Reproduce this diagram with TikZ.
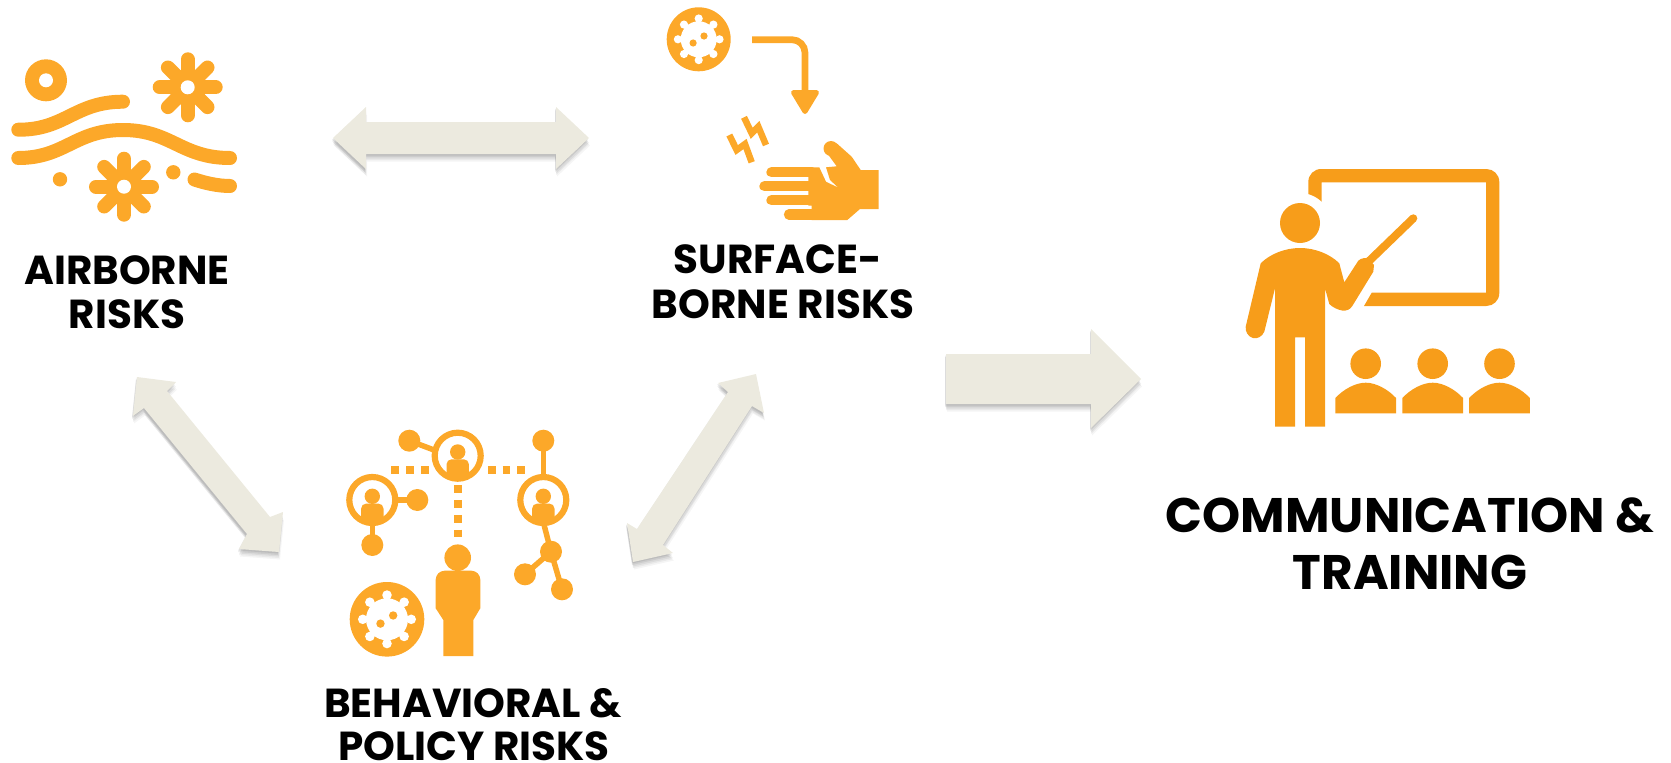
\documentclass[tikz,border=0pt]{standalone}
\usepackage{fontspec}
\setmainfont{Poppins}
\definecolor{iconor}{HTML}{FCA829}
\definecolor{teachor}{HTML}{F79D1A}
\definecolor{arrowfill}{HTML}{ECEADF}
\tikzset{
  iconfill/.style={fill=iconor,draw=none},
  iconline/.style={draw=iconor,line cap=round,line width=#1},
  labelsmall/.style={font=\bfseries\fontsize{40.5}{44}\selectfont,text=black,inner sep=0pt,anchor=center},
  labelbig/.style={font=\bfseries\fontsize{48.5}{52}\selectfont,text=black,inner sep=0pt,anchor=center},
}
\newcommand{\blockarrow}[1]{%
  \fill[black,opacity=.07,shift={(-1,1.5)}] #1;
  \fill[black,opacity=.07,shift={(-1,3)}] #1;
  \fill[black,opacity=.06,shift={(0,4.5)}] #1;
  \fill[black,opacity=.05,shift={(0,6)}] #1;
  \fill[black,opacity=.04,shift={(1,7.5)}] #1;
  \fill[arrowfill] #1;
}
\newcommand{\flowerIcon}[2]{%
  \foreach \a in {0,45,...,315}{\draw[iconline=14] (#1,#2) -- ++(\a:28);}
  \fill[iconor] (#1,#2) circle[radius=18.5];
  \fill[white] (#1,#2) circle[radius=7];
}
\newcommand{\virusIcon}[3]{% cx cy R
  \fill[iconor] (#1,#2) circle[radius=#3];
  \begin{scope}[shift={(#1,#2)},scale=#3/32]
    \fill[white] (0,0) circle[radius=18];
    \foreach \a in {0,45,...,315}{\draw[white,line width=5*#3/32] (0,0) -- (\a:20);
      \fill[white] (\a:20.8) circle[radius=4.1];}
    \fill[iconor] (5.3,-3.3) circle[radius=3.6];
    \fill[iconor] (-5.6,3.7) circle[radius=3.6];
  \end{scope}
}
\newcommand{\ringPerson}[2]{%
  \begin{scope}[shift={(#1,#2)}]
    \draw[iconor,line width=6.2] (0,0) circle[radius=23];
    \fill[iconor] (0,-3.7) circle[radius=7.7];
    \fill[iconor,rounded corners=5pt] (-11.2,3.6) rectangle (11.2,22);
  \end{scope}
}
\newcommand{\ballIcon}[2]{\fill[iconor] (#1,#2) circle[radius=11];}
\begin{document}
\begin{tikzpicture}[x=1pt,y=-1pt]
\useasboundingbox (0,0) rectangle (1671,763);

% ---------- block arrows
\blockarrow{(333,138)--(366,107)--(366,122)--(556,122)--(556,107)--(589,138)--(556,169)--(556,154)--(366,154)--(366,169)--cycle}
\blockarrow{(137,377)--(176,382)--(167,391)--(270,517)--(283,512)--(279,552)--(239,549)--(247,534)--(144,408)--(133,416)--cycle}
\blockarrow{(756,374)--(764,413)--(752,406)--(663,545)--(673,553)--(633,562)--(627,523)--(637,529)--(728,392)--(718,383)--cycle}
\blockarrow{(946,354)--(1091,354)--(1091,329)--(1141,379)--(1091,428)--(1091,404)--(946,404)--cycle}

% ---------- airborne icon
\fill[iconor] (46,80.3) circle[radius=21];
\fill[white] (46,80.3) circle[radius=7];
\flowerIcon{187.7}{87.3}
\flowerIcon{124}{186.7}
\draw[iconline=14] (18.3,129.7) .. controls (65,130) and (75,101.7) .. (123,101.7);
\draw[iconline=14] (18.3,158) .. controls (65,158) and (75,130) .. (123,130) .. controls (171,130) and (181,158) .. (230,158);
\fill[iconor] (60,179.3) circle[radius=7.2];
\fill[iconor] (173.3,172.3) circle[radius=7.2];
\draw[iconline=14] (194.5,179.5) .. controls (205,183) and (218,186) .. (230,186);

% ---------- surface icon
\virusIcon{698.7}{39.3}{32}
\draw[draw=iconor,line width=6.7,rounded corners=13pt] (752,39.7) -- (805,39.7) -- (805,92);
\fill[iconor,draw=iconor,line width=5,line join=round] (793.5,92.5) -- (816.5,92.5) -- (805,111.5) -- cycle;
\draw[draw=iconor,line width=6.5,miter limit=10] (744,117.3) -- (751.7,133.3) -- (758.3,126.7) -- (766,145);
\draw[draw=iconor,line width=6.5,miter limit=10] (729.3,135) -- (736.7,150) -- (745,144) -- (751.7,162.3);
\foreach \yy/\xx in {172.3/771.5,186.3/764.5,200.3/771.5}{\draw[iconline=10.3] (\xx,\yy) -- (812,\yy);}
\draw[iconline=10.3] (789,214.5) -- (815,214.5);
\fill[iconor] (808.3,167.3) -- (819.3,167.3) -- (826,181.7) -- (838.3,187.7) -- (830,180) -- (826,167.3) -- (836.7,166.3) -- (826,151.7) -- (836.7,143.3) -- (851.7,156.7) -- (860.7,170) -- (878.7,170) -- (878.7,209) -- (860,209) -- (847.3,220) -- (811.7,220) -- (811.7,205.7) -- (808.3,205.7) -- cycle;
\fill[iconor] (831,148.5) circle[radius=7.5];

% ---------- behaviour icon
\draw[iconor,line width=5.5] (409.3,440.7) -- (434,450);
\draw[iconor,line width=5.5] (395,500) -- (417.3,500);
\draw[iconor,line width=5.5] (372.3,520) -- (372.3,545);
\draw[iconor,line width=5.5] (543.3,440.7) -- (543.3,480);
\draw[iconor,line width=5.5] (543.3,522) -- (551,551.7) -- (562,589.3);
\draw[iconor,line width=5.5] (551,551.7) -- (525,574.3);
\ballIcon{409.3}{440.7}
\ballIcon{417.3}{500}
\ballIcon{372.3}{545}
\ballIcon{543.3}{440.7}
\ballIcon{551}{551.7}
\ballIcon{562}{589.3}
\ballIcon{525}{574.3}
\ringPerson{457.7}{455.7}
\ringPerson{372.3}{500}
\ringPerson{543.3}{500}
\draw[iconor,line width=7.7,dash pattern=on 7.7pt off 7.1pt] (391.2,470.3) -- (429,470.3);
\draw[iconor,line width=7.7,dash pattern=on 7.7pt off 7.1pt] (487.8,470.3) -- (526,470.3);
\draw[iconor,line width=7.7,dash pattern=on 7.7pt off 7.2pt] (457.7,485) -- (457.7,538);
\fill[iconor] (457.7,557.7) circle[radius=13.3];
\fill[iconor] (443.3,656) -- (443.3,620) -- (435.7,608.3) {[rounded corners=9pt] -- (435.7,570.7) -- (480.3,570.7)} -- (480.3,608.3) -- (473.3,620) -- (473.3,656) -- cycle;
\virusIcon{387}{619.3}{37.3}

% ---------- teacher icon
\fill[teachor] (1300,223) circle[radius=20];
\fill[teachor] (1308.3,194) -- (1308.3,182) .. controls (1308.3,174.5) and (1314,169) .. (1321.3,169) -- (1486.3,169) .. controls (1493.5,169) and (1499.3,174.5) .. (1499.3,182) -- (1499.3,293) .. controls (1499.3,300.5) and (1493.5,306) .. (1486.3,306) -- (1364,306) -- (1371.7,292.7) -- (1486,292.7) -- (1486,182.3) -- (1321.7,182.3) -- (1321.7,201.7) .. controls (1318,198) and (1313,195.5) .. (1308.3,194) -- cycle;
\fill[teachor] (1275,426.7) -- (1275,288.3) -- (1264.3,331.7) .. controls (1262,337) and (1257,339) .. (1253,338) .. controls (1248,337) and (1245,331) .. (1245.7,326.7) -- (1260.7,263.3) .. controls (1270,254) and (1285,248) .. (1300,248) .. controls (1315,248) and (1330,254) .. (1339.3,263.3) -- (1344.3,282.3) -- (1358.3,260.7) .. controls (1361,258) and (1366,257.5) .. (1368,258.5) -- (1374,265) -- (1373.3,271.7) -- (1352.3,306) .. controls (1350,310) and (1346,310.7) .. (1343,310.7) .. controls (1338,310) and (1332,307) .. (1329.3,304) -- (1325,288.3) -- (1325,426.7) -- (1305,426.7) -- (1305,337.3) -- (1295,337.3) -- (1295,426.7) -- cycle;
\draw[draw=teachor,line width=8,line cap=round] (1366,264) -- (1413.3,218.3);
\foreach \cx in {1365.7,1432.7,1499.5}{
  \fill[teachor] (\cx,363.7) circle[radius=15.3];
  \fill[teachor] (\cx-30.3,413.3) -- (\cx-30.3,398) .. controls (\cx-22,389) and (\cx-10,382.7) .. (\cx,382.7) .. controls (\cx+10,382.7) and (\cx+22,389) .. (\cx+30.3,398) -- (\cx+30.3,413.3) -- cycle;
}

% ---------- labels
\node[labelsmall] (airA) at (127,270) {AIRBORNE};
\node[labelsmall] (airB) at (127,314) {RISKS};
\node[labelsmall] (surfA) at (778,259) {SURFACE-};
\node[labelsmall] (surfB) at (783,304) {BORNE RISKS};
\node[labelsmall] (behA) at (473,703) {BEHAVIORAL \&};
\node[labelsmall] (behB) at (474,746) {POLICY RISKS};
\node[labelbig] (commA) at (1410,515) {COMMUNICATION \&};
\node[labelbig] (commB) at (1410,572) {TRAINING};
\end{tikzpicture}
\end{document}
